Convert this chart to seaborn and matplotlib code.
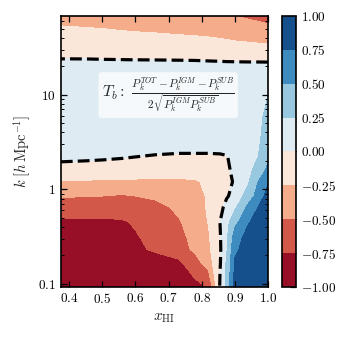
import numpy as np
import pandas as pd
import seaborn as sns
import matplotlib.pyplot as plt
import matplotlib.ticker as mticker

# Grid of neutral fraction and wavenumber
x_hi = [0.375, 0.45, 0.5, 0.56, 0.6, 0.66, 0.73, 0.78, 0.82, 0.855, 0.875, 0.9, 0.94, 0.97, 1.0]
k_vals = [0.093, 0.165, 0.23, 0.31, 0.45, 0.65, 0.85, 1.2, 1.6, 2.2, 3.3, 6, 12, 23, 35, 50, 68]

# T_b values, one row per k (low k first), one column per x_HI
tb = [
    [-0.92, -0.92, -0.91, -0.90, -0.89, -0.87, -0.85, -0.80, -0.74, 0.02, 0.30, 0.85, 0.90, 0.92, 0.93],
    [-0.88, -0.88, -0.87, -0.86, -0.84, -0.82, -0.80, -0.62, -0.38, -0.02, 0.28, 0.78, 0.88, 0.90, 0.92],
    [-0.85, -0.85, -0.84, -0.83, -0.78, -0.73, -0.62, -0.45, -0.30, -0.03, 0.22, 0.70, 0.87, 0.90, 0.92],
    [-0.82, -0.82, -0.81, -0.80, -0.765, -0.70, -0.58, -0.42, -0.28, -0.02, 0.20, 0.62, 0.85, 0.90, 0.92],
    [-0.78, -0.78, -0.78, -0.77, -0.73, -0.66, -0.52, -0.40, -0.24, 0.00, 0.17, 0.42, 0.72, 0.88, 0.92],
    [-0.62, -0.63, -0.64, -0.64, -0.62, -0.58, -0.45, -0.37, -0.22, -0.08, 0.08, 0.20, 0.55, 0.75, 0.90],
    [-0.48, -0.49, -0.50, -0.52, -0.50, -0.45, -0.38, -0.34, -0.22, -0.12, -0.03, 0.10, 0.35, 0.60, 0.85],
    [-0.26, -0.27, -0.28, -0.29, -0.29, -0.30, -0.30, -0.28, -0.20, -0.12, -0.05, 0.02, 0.22, 0.50, 0.73],
    [-0.10, -0.10, -0.10, -0.10, -0.10, -0.10, -0.10, -0.11, -0.10, -0.08, -0.03, 0.04, 0.18, 0.35, 0.55],
    [0.07, 0.05, 0.035, 0.015, 0.0, -0.012, -0.022, -0.022, -0.022, -0.02, -0.01, 0.06, 0.15, 0.25, 0.47],
    [0.10, 0.10, 0.10, 0.10, 0.10, 0.10, 0.10, 0.10, 0.10, 0.11, 0.12, 0.14, 0.17, 0.20, 0.40],
    [0.12, 0.12, 0.12, 0.12, 0.12, 0.12, 0.12, 0.12, 0.12, 0.13, 0.14, 0.15, 0.17, 0.20, 0.30],
    [0.12, 0.12, 0.12, 0.12, 0.12, 0.12, 0.12, 0.12, 0.12, 0.13, 0.13, 0.14, 0.16, 0.19, 0.22],
    [0.01, 0.01, 0.008, 0.006, 0.005, 0.004, 0.002, 0.0, -0.003, -0.006, -0.008, -0.01, -0.013, -0.016, -0.02],
    [-0.12, -0.13, -0.14, -0.15, -0.16, -0.17, -0.18, -0.19, -0.20, -0.21, -0.22, -0.23, -0.24, -0.25, -0.26],
    [-0.22, -0.24, -0.25, -0.27, -0.28, -0.29, -0.31, -0.32, -0.33, -0.35, -0.36, -0.38, -0.40, -0.42, -0.45],
    [-0.38, -0.38, -0.39, -0.39, -0.40, -0.40, -0.41, -0.42, -0.43, -0.45, -0.47, -0.50, -0.54, -0.57, -0.60],
]
levels = [-1.0, -0.75, -0.5, -0.25, 0.0, 0.25, 0.5, 0.75, 1.0]

df = pd.DataFrame(tb, index=k_vals, columns=x_hi)

sns.set_theme(style="ticks")
plt.rcParams.update({
    "font.family": ["DejaVu Serif"],
    "mathtext.fontset": "cm",
    "xtick.direction": "in", "ytick.direction": "in",
    "xtick.top": True, "ytick.right": True,
    "xtick.major.size": 4, "ytick.major.size": 4,
    "xtick.major.width": 0.9, "ytick.major.width": 0.9,
    "ytick.minor.size": 2, "ytick.minor.width": 0.7, "ytick.minor.visible": True,
    "axes.linewidth": 1.2, "axes.edgecolor": "black",
    "xtick.color": "black", "ytick.color": "black",
})

cmap = sns.color_palette("RdBu", as_cmap=True)

fig = plt.figure(figsize=(3.38, 3.38), dpi=100)
ax = fig.add_axes([0.18, 0.151, 0.613, 0.802])
cax = fig.add_axes([0.834, 0.151, 0.042, 0.802])

cf = ax.contourf(df.columns, df.index, df.values, levels=levels, cmap=cmap)
ax.contour(df.columns, df.index, df.values, levels=[0.0], colors="black",
           linestyles="--", linewidths=2.3)
ax.set_axisbelow(False)
ax.set_yscale("log")
ax.set_xlim(0.375, 1.0)
ax.set_ylim(0.093, 68)

ax.set_xticks([0.4, 0.5, 0.6, 0.7, 0.8, 0.9, 1.0])
ax.xaxis.set_major_formatter(mticker.FuncFormatter(lambda v, p: f"${v:.1f}$"))
ax.set_yticks([0.1, 1, 10])
ax.yaxis.set_major_formatter(mticker.FuncFormatter(lambda v, p: f"${v:g}$"))
ax.yaxis.set_minor_locator(mticker.LogLocator(base=10, subs=np.arange(2, 10)))
ax.yaxis.set_minor_formatter(mticker.NullFormatter())
ax.tick_params(labelsize=9.5)

ax.set_xlabel(r"$x_{\rm HI}$", fontsize=11)
ax.set_ylabel(r"$k\ [h\,{\rm Mpc}^{-1}]$", fontsize=10.5)

ax.text(0.518, 0.708,
        r"$T_b:\ \frac{P_k^{TOT}-P_k^{IGM}-P_k^{SUB}}{2\sqrt{P_k^{IGM}P_k^{SUB}}}$",
        transform=ax.transAxes, ha="center", va="center", fontsize=11.5,
        bbox=dict(boxstyle="round,pad=0.2", facecolor="white", edgecolor="none", alpha=0.75))

cb = fig.colorbar(cf, cax=cax, ticks=levels)
cb.ax.yaxis.set_major_formatter(mticker.FuncFormatter(lambda v, p: f"${v:.2f}$"))
cb.ax.tick_params(labelsize=9.5, direction="in", length=4, width=0.9, right=True, left=False)
cb.outline.set_linewidth(1.2)

fig.savefig("out.png", dpi=100)
